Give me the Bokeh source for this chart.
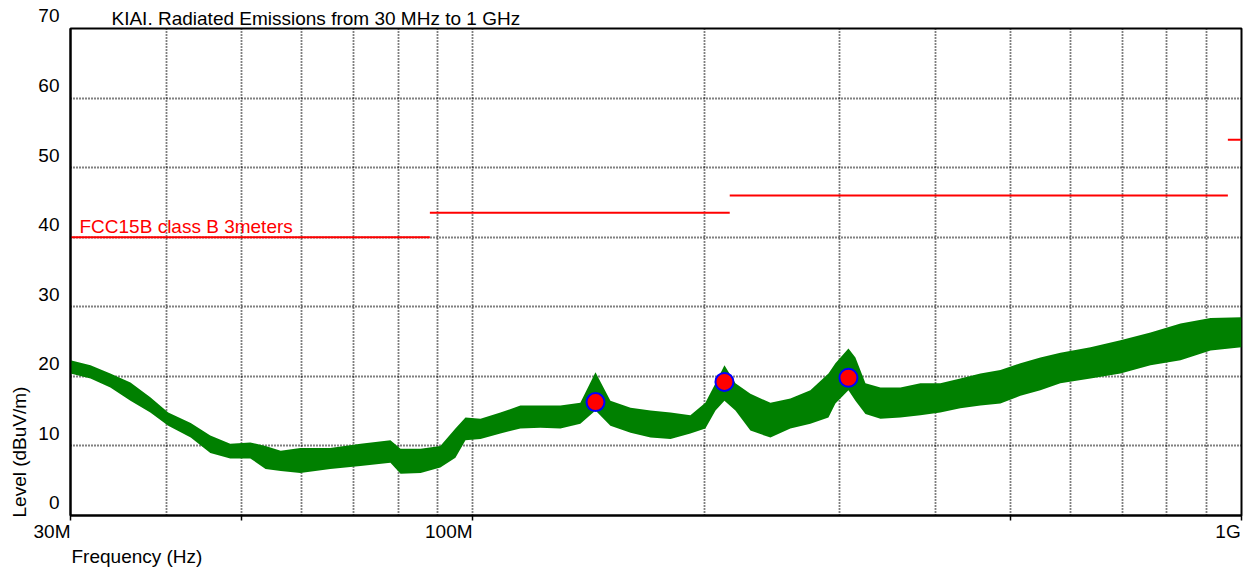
from bokeh.plotting import figure
from bokeh.models import Range1d, FixedTicker, Label, Title
from bokeh.embed import file_html
from bokeh.resources import INLINE

FONT = "Liberation Sans"

# ---- data ----
trace_mhz = [30.0, 31.85, 33.8, 35.9, 38.1, 40.2, 43.0, 45.6, 48.4, 51.4, 53.8, 56.3, 59.7,
             65.3, 71.5, 78.2, 80.6, 85.6, 90.8, 95.0, 97.9, 102.4, 108.7, 115.4, 122.5,
             130.1, 138.1, 144.5, 151.1, 160.5, 170.4, 180.9, 192.0, 200.8, 207.0, 212.6,
             219.7, 229.8, 244.0, 259.0, 275.0, 290.3, 296.4, 308.2, 314.7, 324.3, 339.2,
             360.1, 382.3, 405.8, 430.8, 457.6, 485.8, 515.8, 547.6, 581.4, 636.2, 696.0,
             761.5, 833.1, 911.5, 1000.0]
trace_top = [22.3, 21.6, 20.4, 19.1, 17.0, 14.8, 13.3, 11.5, 10.3, 10.5, 10.0, 9.3, 9.7,
             9.7, 10.3, 10.8, 9.6, 9.6, 10.0, 12.5, 14.1, 13.9, 14.8, 15.8, 15.8,
             15.8, 16.2, 20.6, 16.5, 15.5, 15.1, 14.8, 14.4, 16.2, 19.0, 21.6,
             19.0, 17.5, 16.2, 16.8, 18.0, 20.4, 21.9, 24.0, 22.7, 19.0, 18.4,
             18.4, 19.0, 19.0, 19.7, 20.4, 20.9, 21.9, 22.7, 23.4, 24.2, 25.2,
             26.3, 27.6, 28.4, 28.5]
trace_bottom = [20.4, 19.7, 18.4, 16.5, 14.8, 12.9, 11.2, 9.0, 8.2, 8.2, 6.7, 6.4, 6.1,
                6.7, 7.1, 7.6, 6.0, 6.1, 6.9, 8.3, 10.8, 11.0, 11.8, 12.5, 12.6,
                12.5, 13.2, 15.1, 12.9, 11.9, 11.2, 11.0, 11.8, 12.5, 15.1, 16.5,
                15.1, 12.2, 11.2, 12.5, 13.2, 14.1, 16.1, 18.0, 16.5, 14.6, 13.9,
                14.1, 14.4, 14.8, 15.4, 15.8, 16.1, 17.2, 18.0, 19.0, 19.7, 20.4,
                21.6, 22.3, 23.7, 24.2]

limit_start_mhz = [30, 88, 216, 960]
limit_end_mhz = [88, 216, 960, 1000]
limit_level = [40, 43.5, 46, 54]

peak_mhz = [144.5, 212.6, 308.2]
peak_level = [16.3, 19.2, 19.8]

y_tick_values = [0, 10, 20, 30, 40, 50, 60, 70]
y_grid_values = [10, 20, 30, 40, 50, 60]
x_tick_mhz = [30, 50, 100, 500, 1000]
x_tick_text = ["30M", "", "100M", "", "1G"]
x_grid_mhz = [40, 50, 60, 70, 80, 90, 100, 200, 300, 400, 500, 600, 700, 800, 900]

title_text = "KIAI. Radiated Emissions from 30 MHz to 1 GHz"
limit_text = "FCC15B class B 3meters"
x_title = "Frequency (Hz)"
y_title = "Level (dBuV/m)"

M = 1e6
NBSP = "\u00a0"
# trailing padding (in spaces) so each centred x label ends at its tick;
# the last one is kept inside the canvas edge
X_PAD = {"30M": 7, "100M": 9, "1G": 3}


def x_label(txt):
    return txt + NBSP * X_PAD.get(txt, 0) if txt else txt


def y_label(v):
    # a blank second line lifts the number just above its gridline
    return f"{v}\n{NBSP}"


p = figure(width=1256, height=571, output_backend="svg", toolbar_location=None,
           x_axis_type="log", title=title_text,
           x_range=Range1d(30 * M, 1000 * M), y_range=Range1d(0, 70),
           min_border_left=70, min_border_right=15, min_border_top=28, min_border_bottom=56)
p.background_fill_color = "white"
p.border_fill_color = "white"
p.outline_line_color = "black"
p.outline_line_width = 2

# title
p.title.align = "left"
p.title.offset = 41
p.title.standoff = 0
p.title.text_font = FONT
p.title.text_font_size = "19px"
p.title.text_font_style = "normal"
p.title.text_color = "black"

# x axis
xa = p.xaxis[0]
xa.ticker = FixedTicker(ticks=[v * M for v in x_tick_mhz])
xa.major_label_overrides = {int(v * M): x_label(t) for v, t in zip(x_tick_mhz, x_tick_text)}
xa.major_label_text_font = FONT
xa.major_label_text_font_size = "19px"
xa.major_label_text_color = "black"
xa.major_label_standoff = 0
xa.major_tick_in = 0
xa.major_tick_out = 5
xa.major_tick_line_color = "black"
xa.major_tick_line_width = 1.5
xa.minor_tick_line_color = None
xa.axis_line_color = "black"
xa.axis_line_width = 2

# y axis
ya = p.yaxis[0]
ya.ticker = FixedTicker(ticks=y_tick_values)
ya.major_label_overrides = {v: y_label(v) for v in y_tick_values}
ya.major_label_text_font = FONT
ya.major_label_text_font_size = "19px"
ya.major_label_text_color = "black"
ya.major_label_standoff = 5
ya.major_tick_line_color = None
ya.minor_tick_line_color = None
ya.axis_line_color = "black"
ya.axis_line_width = 2

# axis titles as side titles (aligned to the plot frame)
p.add_layout(Title(text=x_title, align="left", offset=1, standoff=-2,
                   text_font=FONT, text_font_size="19px", text_font_style="normal",
                   text_color="black"), "below")
p.add_layout(Title(text=y_title, align="left", offset=-2, standoff=11,
                   text_font=FONT, text_font_size="19px", text_font_style="normal",
                   text_color="black"), "left")

# grids
p.xgrid.ticker = FixedTicker(ticks=[v * M for v in x_grid_mhz])
p.xgrid.grid_line_color = "black"
p.xgrid.grid_line_dash = "1 2"
p.xgrid.grid_line_width = 1.8
p.ygrid.ticker = FixedTicker(ticks=y_grid_values)
p.ygrid.grid_line_color = "black"
p.ygrid.grid_line_dash = "1 2"
p.ygrid.grid_line_width = 1.8

# trace
p.varea(x=[f * M for f in trace_mhz], y1=trace_bottom, y2=trace_top,
        fill_color="#008000", fill_alpha=1.0)

# limit lines
p.segment(x0=[f * M for f in limit_start_mhz], x1=[f * M for f in limit_end_mhz],
          y0=limit_level, y1=limit_level, line_color="#ff0000", line_width=2)

# peaks
p.scatter(x=[f * M for f in peak_mhz], y=peak_level, size=18, marker="circle",
          fill_color="#ff0000", line_color="#0000ff", line_width=2)

# limit text
p.add_layout(Label(x=30 * M, y=limit_level[0], x_offset=9, y_offset=0, text=limit_text,
                   text_font=FONT, text_font_size="19px", text_color="#ff0000",
                   text_baseline="bottom", text_align="left"))

open("out.html", "w").write(file_html(p, INLINE))
